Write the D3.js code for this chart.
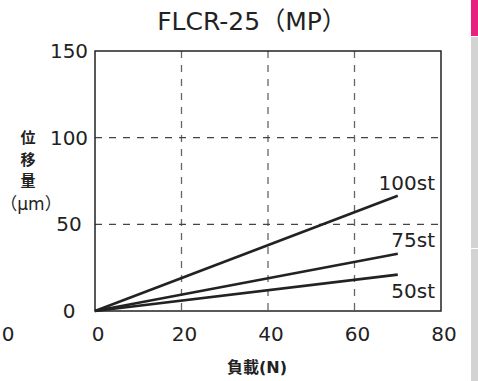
<!DOCTYPE html>
<html><head><meta charset="utf-8">
<script src="https://cdn.jsdelivr.net/npm/d3@7"></script>
<style>body{margin:0;background:#fff}svg{display:block}text{font-family:"DejaVu Sans","Noto Sans CJK JP",sans-serif;fill:#222}.cjk{font-family:"Noto Sans CJK JP",sans-serif}</style>
</head><body>
<script>
const title = "FLCR-25（MP）";
const series = ["100st","75st","50st"];
const loads = [0, 70];
const disp100 = [0, 66.5];
const disp75 = [0, 33];
const disp50 = [0, 21];
const xTicks = [0,20,40,60,80];
const yTicks = [0,50,100,150];
const xTitle = "負載(N)";
const yTitleChars = ["位","移","量"];
const yUnit = "（μm）";

const W=478,H=381;
const svg=d3.select("body").append("svg").attr("width",W).attr("height",H);
const x=d3.scaleLinear().domain([0,80]).range([95,441]);
const y=d3.scaleLinear().domain([0,150]).range([311,51]);

// side bar
svg.append("rect").attr("x",471).attr("y",0).attr("width",7).attr("height",36).attr("fill","#e8217f");
svg.append("rect").attr("x",471).attr("y",37).attr("width",7).attr("height",211).attr("fill","#d3d3d3");
svg.append("rect").attr("x",471).attr("y",249).attr("width",7).attr("height",132).attr("fill","#d3d3d3");

// grid
svg.append("g").selectAll("line").data([20,40,60]).join("line")
 .attr("x1",d=>x(d)).attr("x2",d=>x(d)).attr("y1",y(150)).attr("y2",y(0))
 .attr("stroke","#666").attr("stroke-width",1.3).attr("stroke-dasharray","7,7");
svg.append("g").selectAll("line").data([50,100]).join("line")
 .attr("x1",x(0)).attr("x2",x(80)).attr("y1",d=>y(d)).attr("y2",d=>y(d))
 .attr("stroke","#444").attr("stroke-width",1.2).attr("stroke-dasharray","7,7");

// frame
svg.append("rect").attr("x",x(0)).attr("y",y(150)).attr("width",x(80)-x(0)).attr("height",y(0)-y(150))
 .attr("fill","none").attr("stroke","#222").attr("stroke-width",1.5);

// lines
const data=[disp100,disp75,disp50];
const line=d3.line().x((d,i)=>x(loads[i])).y(d=>y(d));
svg.append("g").selectAll("path").data(data).join("path")
 .attr("d",d=>line(d)).attr("fill","none").attr("stroke","#222").attr("stroke-width",2.6);

// series labels
const labY=[190,247,298];
svg.append("g").selectAll("text").data(series).join("text")
 .attr("x",435).attr("y",(d,i)=>labY[i]).attr("text-anchor","end")
 .style("font-size","20px").text(d=>d);

// y ticks
svg.append("g").selectAll("text").data(yTicks).join("text")
 .attr("x",69).attr("y",d=>y(d)+7).attr("text-anchor","middle")
 .style("font-size","20px").text(d=>d);
// x ticks
svg.append("g").selectAll("text").data(xTicks).join("text")
 .attr("x",d=>x(d)+3).attr("y",341).attr("text-anchor","middle")
 .style("font-size","20px").text(d=>d);
svg.append("text").attr("x",8).attr("y",341).attr("text-anchor","middle").style("font-size","20px").text("0");

// titles
svg.append("text").attr("x",252).attr("y",30).attr("text-anchor","middle").style("font-size","25px").text(title);
svg.append("text").attr("x",257).attr("y",373).attr("text-anchor","middle").style("font-size","16px").style("font-weight","bold").text(xTitle);
svg.append("g").selectAll("text").data(yTitleChars).join("text").attr("class","cjk")
 .attr("x",28).attr("y",(d,i)=>143+i*21.5).attr("text-anchor","middle")
 .style("font-size","15px").style("font-weight","bold").text(d=>d);
svg.append("text").attr("x",31).attr("y",210).attr("text-anchor","middle").style("font-size","17px").text(yUnit);
</script>
</body></html>
